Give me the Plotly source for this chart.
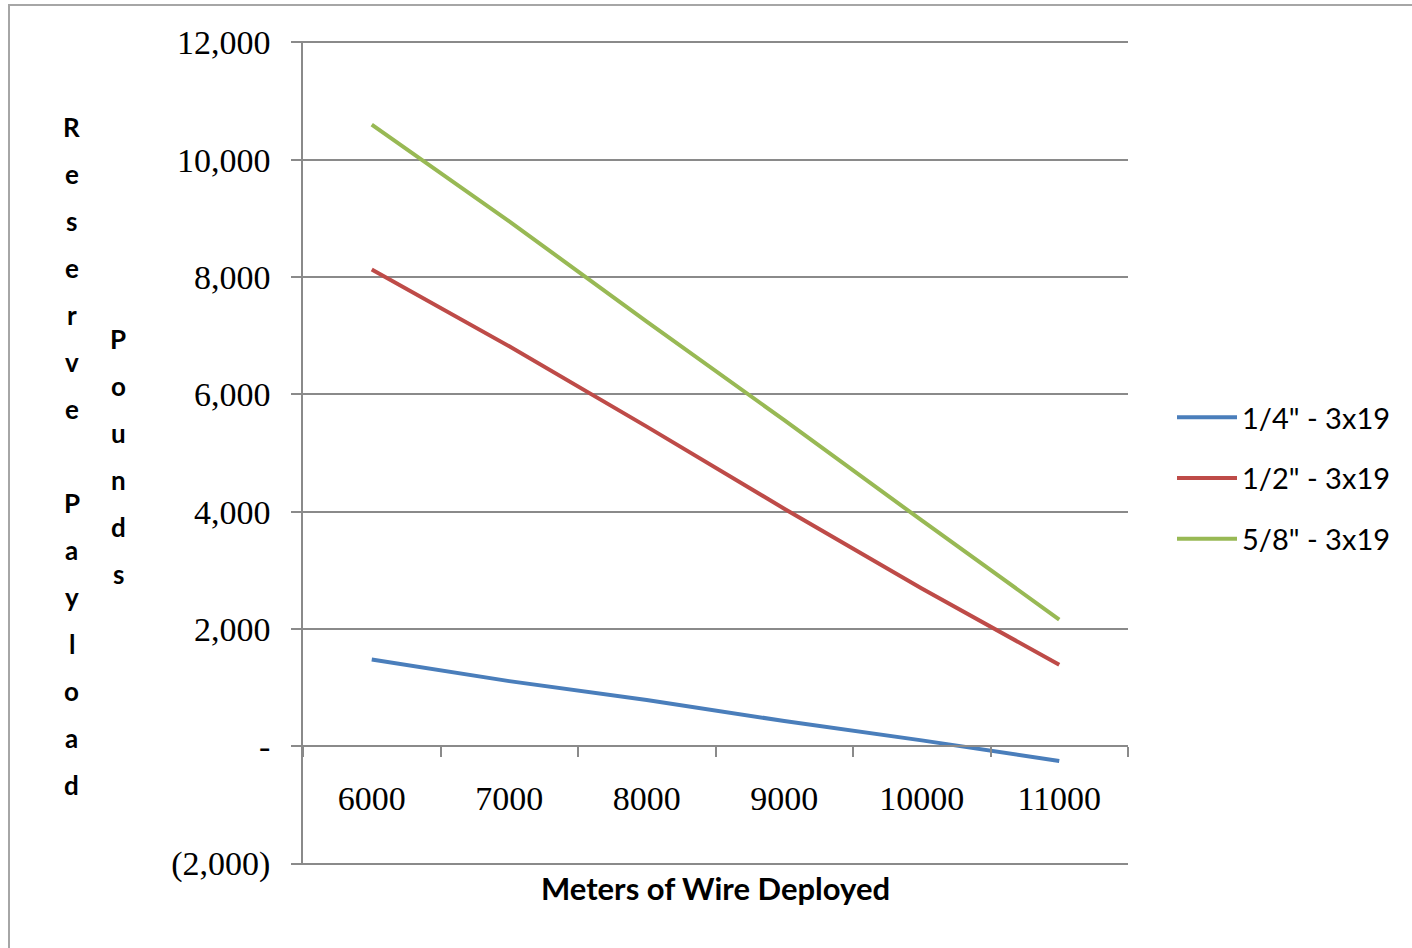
import plotly.graph_objects as go

# Wire length deployed (metres) - category axis
meters = ["6000", "7000", "8000", "9000", "10000", "11000"]

# Reserve payload (pounds) for each wire size
wire_quarter = [1480, 1110, 790, 430, 100, -250]
wire_half = [8130, 6820, 5450, 4050, 2690, 1390]
wire_five_eighths = [10600, 8950, 7240, 5560, 3850, 2160]

series_names = ['1/4" - 3x19', '1/2" - 3x19', '5/8" - 3x19']
series_colors = ["#4A7EBB", "#BE4B48", "#98B954"]

y_tickvals = [-2000, 0, 2000, 4000, 6000, 8000, 10000, 12000]
y_ticktext = ["(2,000)", "-", "2,000", "4,000", "6,000", "8,000", "10,000", "12,000"]

y_title_left = "Reserve Payload"
y_title_right = "Pounds"
x_title = "Meters of Wire Deployed"

W, H = 1412, 948
L, R, T, B = 303, 284, 41, 83
PW, PH = W - L - R, H - T - B

# small pad so the boundary gridlines at -2,000 and 12,000 stay visible
Y_LO, Y_HI = -2000, 12000
PAD = 25


def px_x(px):
    return (px - L) / PW


def px_y(py):
    return (H - B - py) / PH


SERIF = "Liberation Serif"
SANS = "Lato"
GRID = "#8A8A8A"

fig = go.Figure()
for name, vals, col in zip(series_names, [wire_quarter, wire_half, wire_five_eighths], series_colors):
    fig.add_trace(go.Scatter(
        x=meters, y=vals, mode="lines", name=name, legendgroup=name,
        line=dict(color=col, width=4),
    ))

# Stacked, letter-per-line y-axis titles
annotations = []
for i, ch in enumerate(y_title_left):
    if ch == " ":
        continue
    annotations.append(dict(
        text=ch, x=px_x(72), y=px_y(127 + 47 * i), xref="paper", yref="paper",
        showarrow=False, xanchor="center", yanchor="middle",
        font=dict(family=SANS, size=26, color="#000000", weight="bold"),
    ))
for i, ch in enumerate(y_title_right):
    annotations.append(dict(
        text=ch, x=px_x(118), y=px_y(339 + 47 * i), xref="paper", yref="paper",
        showarrow=False, xanchor="center", yanchor="middle",
        font=dict(family=SANS, size=26, color="#000000", weight="bold"),
    ))

fig.update_layout(
    width=W, height=H,
    margin=dict(l=L, r=R, t=T, b=B, autoexpand=False),
    paper_bgcolor="white", plot_bgcolor="white",
    showlegend=True,
    legend=dict(
        x=px_x(1172), y=px_y(392), xanchor="left", yanchor="top",
        font=dict(family=SANS, size=29, color="#000000"),
        traceorder="grouped", tracegroupgap=20, itemwidth=60,
        bgcolor="rgba(0,0,0,0)",
    ),
    annotations=annotations,
    shapes=[dict(
        type="rect", xref="paper", yref="paper",
        x0=px_x(9), y0=px_y(H + 20), x1=px_x(W + 20), y1=px_y(5),
        line=dict(color="#A6A6A6", width=2), fillcolor="rgba(0,0,0,0)", layer="below",
    )],
    xaxis=dict(
        type="category", range=[-0.5, len(meters) - 0.5],
        anchor="free", position=(0 - (Y_LO - PAD)) / ((Y_HI + PAD) - (Y_LO - PAD)),
        showline=True, linecolor=GRID, linewidth=1.5,
        ticks="outside", ticklen=10, tickcolor=GRID, tickwidth=1.5,
        tickson="boundaries", showgrid=False, zeroline=False,
        tickfont=dict(family=SERIF, size=34, color="#000000"),
        ticklabelstandoff=22,
        title=dict(text=x_title, standoff=62,
                   font=dict(family=SANS, size=31, color="#000000", weight="bold")),
    ),
    yaxis=dict(
        range=[Y_LO - PAD, Y_HI + PAD], tickvals=y_tickvals, ticktext=y_ticktext,
        showline=True, linecolor=GRID, linewidth=1.5,
        ticks="outside", ticklen=10, tickcolor=GRID, tickwidth=1.5,
        showgrid=True, gridcolor=GRID, gridwidth=1.5, zeroline=False,
        tickfont=dict(family=SERIF, size=34, color="#000000"),
        ticklabelstandoff=14,
    ),
)

fig.write_html("out.html")
